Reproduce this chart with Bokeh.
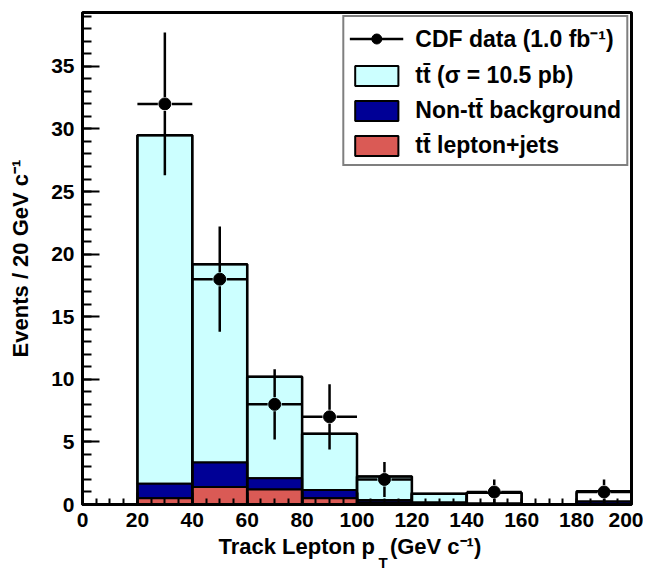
import numpy as np
from bokeh.plotting import figure
from bokeh.models import Legend, LegendItem, SingleIntervalTicker, Title, Range1d
from bokeh.embed import file_html
from bokeh.resources import INLINE

# ---- data ----
bin_edges = [0, 20, 40, 60, 80, 100, 120, 140, 160, 180, 200]
lepjets = [0.0, 0.5, 1.4, 1.2, 0.5, 0.15, 0.05, 0.0, 0.0, 0.05]      # tt lepton+jets
nontt = [0.0, 1.15, 1.95, 0.9, 0.65, 0.2, 0.1, 0.1, 0.0, 0.2]        # non-tt background
dilep = [0.0, 27.85, 15.85, 8.1, 4.51, 1.88, 0.7, 0.0, 0.0, 0.0]     # tt signal
mc_outline = [0.0, 29.5, 19.2, 10.2, 5.66, 2.23, 0.85, 0.93, 0.0, 1.05]

data_x = [30, 50, 70, 90, 110, 150, 190]
data_y = [32, 18, 8, 7, 2, 1, 1]
data_err = [5.7, 4.2, 2.8, 2.6, 1.4, 1.0, 1.0]
data_xerr = [10, 10, 10, 10, 10, 10, 10]

y_max = 39.3

FONT = "Liberation Sans"
CYAN = "#ccffff"
NAVY = "#000096"
RED = "#da5a55"

FW, FH = 549, 492
p = figure(frame_width=FW, frame_height=FH, output_backend="svg", toolbar_location=None,
           x_range=Range1d(0, 200), y_range=Range1d(0, y_max),
           min_border_left=82, min_border_right=12, min_border_top=12, min_border_bottom=0)
p.background_fill_color = "white"
p.border_fill_color = "white"
p.xgrid.visible = False
p.ygrid.visible = False
p.outline_line_color = "black"
p.outline_line_width = 3

left = np.array(bin_edges[:-1], float)
right = np.array(bin_edges[1:], float)
r_ = np.array(lepjets)
n_ = np.array(nontt)
d_ = np.array(dilep)

def quads(bottom, top, **kw):
    m = top - bottom > 1e-9
    return p.quad(left=left[m], right=right[m], bottom=bottom[m], top=top[m], **kw)

cy_r = quads(r_ + n_, r_ + n_ + d_, fill_color=CYAN, line_color="black", line_width=2)
nv_r = quads(r_, r_ + n_, fill_color=NAVY, line_color="black", line_width=2)
rd_r = quads(np.zeros_like(r_), r_, fill_color=RED, line_color="black", line_width=2)
quads(np.zeros_like(r_), np.array(mc_outline), fill_color=None, line_color="black", line_width=2.5)

# error bars with a small gap around the marker
x = np.array(data_x, float)
y = np.array(data_y, float)
e = np.array(data_err, float)
xe = np.array(data_xerr, float)
gap_px = 7.0
gx = gap_px * 200 / FW
gy = gap_px * y_max / FH
x0 = np.concatenate([x - xe, x + gx, x, x])
x1 = np.concatenate([x - gx, x + xe, x, x])
y0 = np.concatenate([y, y, y + gy, y - gy])
y1 = np.concatenate([y, y, y + e, np.maximum(y - e, 0)])
seg_r = p.segment(x0=x0, y0=y0, x1=x1, y1=y1, line_color="black", line_width=2.5)
sc_r = p.scatter(x=x, y=y, size=12, fill_color="black", line_color="black")

# axes
xa = p.xaxis[0]
ya = p.yaxis[0]
xa.ticker = SingleIntervalTicker(interval=20, num_minor_ticks=4)
ya.ticker = SingleIntervalTicker(interval=5, num_minor_ticks=5)
for ax in (xa, ya):
    ax.axis_line_width = 3
    ax.axis_line_color = "black"
    ax.major_tick_line_width = 2
    ax.minor_tick_line_width = 2
    ax.major_tick_out = 0
    ax.minor_tick_out = 0
    ax.major_label_text_font = FONT
    ax.major_label_text_font_style = "bold"
    ax.major_label_text_font_size = "21px"
    ax.major_label_text_color = "black"
    ax.major_label_standoff = 8
xa.major_tick_in = 12
xa.minor_tick_in = 6
ya.major_tick_in = 17
ya.minor_tick_in = 9

ya.axis_label = "Events / 20 GeV c\u207b\u00b9"
ya.axis_label_text_font = FONT
ya.axis_label_text_font_style = "bold"
ya.axis_label_text_font_size = "22px"
ya.axis_label_text_color = "black"
ya.axis_label_standoff = 15

# x-axis title with a subscript: spacer row, main title row, subscript row
t_space = Title(text=" ", align="left", offset=0, standoff=4, text_font=FONT,
                text_font_size="1px", text_color="white")
t_main = Title(text="Track Lepton p  \u2009\u2009(GeV c\u207b\u00b9)", align="left", offset=136,
               standoff=-10, text_font=FONT, text_font_style="bold", text_font_size="22px",
               text_color="black")
t_sub = Title(text="T", align="left", offset=296, standoff=-3, text_font=FONT,
              text_font_style="bold", text_font_size="15px", text_color="black")
p.add_layout(t_space, "below")
p.add_layout(t_main, "below")
p.add_layout(t_sub, "below")

tt = "t" + "t\u0304"
legend = Legend(items=[
    LegendItem(label="CDF data (1.0 fb\u207b\u00b9)", renderers=[seg_r, sc_r]),
    LegendItem(label=tt + " (\u03c3 = 10.5 pb)", renderers=[cy_r]),
    LegendItem(label="Non-" + tt + " background", renderers=[nv_r]),
    LegendItem(label=tt + " lepton+jets", renderers=[rd_r]),
], location="top_right")
legend.margin = 3
legend.padding = 5
legend.spacing = 8
legend.glyph_width = 54
legend.glyph_height = 25
legend.label_standoff = 12
legend.label_text_font = FONT
legend.label_text_font_style = "bold"
legend.label_text_font_size = "23px"
legend.label_text_color = "black"
legend.border_line_color = "black"
legend.border_line_width = 2
legend.background_fill_color = "white"
legend.background_fill_alpha = 1.0
p.add_layout(legend)

open("out.html", "w").write(file_html(p, INLINE))
